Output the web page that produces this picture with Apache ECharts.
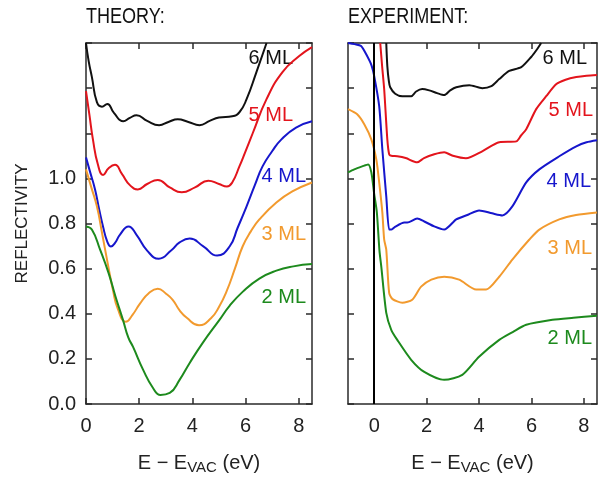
<!DOCTYPE html>
<html>
<head>
<meta charset="utf-8">
<script src="https://cdn.jsdelivr.net/npm/echarts@6/dist/echarts.min.js"></script>
<style>html,body{margin:0;padding:0;background:#fff;}#c{width:603px;height:481px;}</style>
</head>
<body>
<div id="c"></div>
<script>
// ---------- data (x = E - E_VAC in eV, y = reflectivity, offset curves) ----------
const panelTitles = ['THEORY:', 'EXPERIMENT:'];
const seriesNames = ['6 ML', '5 ML', '4 ML', '3 ML', '2 ML'];
const seriesColors = ['#111111', '#e3141c', '#1616cc', '#f29a2e', '#1d8a1d'];
const yTicks = [0, 0.2, 0.4, 0.6, 0.8, 1.0];
const xTickLabels = [0, 2, 4, 6, 8];

const theory6 = [[0,1.60],[0.1,1.52],[0.22,1.45],[0.41,1.338],[0.6,1.318],[0.8,1.33],[1.05,1.29],[1.4,1.253],[1.65,1.268],[1.9,1.28],[2.3,1.255],[2.75,1.236],[3.1,1.25],[3.45,1.262],[3.85,1.25],[4.27,1.236],[4.65,1.255],[5.0,1.27],[5.5,1.275],[5.77,1.293],[6.04,1.351],[6.41,1.471],[6.79,1.6]];
const theory5 = [[0,1.387],[0.13,1.28],[0.26,1.173],[0.45,1.06],[0.64,1.015],[0.85,1.045],[1.09,1.06],[1.35,1.02],[1.65,0.97],[1.95,0.951],[2.3,0.975],[2.7,0.993],[3.15,0.96],[3.6,0.938],[4.1,0.96],[4.6,0.99],[5.0,0.975],[5.3,0.964],[5.5,0.982],[5.77,1.053],[6.0,1.12],[6.27,1.2],[6.79,1.351],[7.39,1.471],[8.02,1.542],[8.5,1.582]];
const theory4 = [[0,1.093],[0.15,1.03],[0.34,0.951],[0.5,0.86],[0.64,0.787],[0.8,0.72],[0.94,0.698],[1.1,0.715],[1.28,0.751],[1.6,0.787],[1.9,0.75],[2.3,0.68],[2.74,0.644],[3.2,0.68],[3.52,0.716],[3.9,0.733],[4.4,0.70],[4.93,0.658],[5.4,0.698],[5.7,0.78],[6.04,0.876],[6.35,0.97],[6.64,1.053],[7.0,1.12],[7.35,1.173],[7.9,1.225],[8.5,1.253]];
const theory3 = [[0,1.04],[0.2,0.96],[0.41,0.876],[0.6,0.76],[0.79,0.64],[1.01,0.507],[1.2,0.42],[1.5,0.364],[1.75,0.395],[2.03,0.445],[2.35,0.49],[2.7,0.511],[3.0,0.49],[3.26,0.462],[3.52,0.415],[3.79,0.382],[4.25,0.349],[4.7,0.38],[5.0,0.43],[5.29,0.5],[5.6,0.6],[5.89,0.698],[6.2,0.765],[6.52,0.818],[7.16,0.893],[7.76,0.942],[8.5,0.982]];
const theory2 = [[0,0.787],[0.22,0.773],[0.53,0.684],[0.85,0.58],[1.1,0.48],[1.39,0.373],[1.59,0.295],[1.77,0.253],[2.15,0.151],[2.52,0.071],[2.8,0.04],[3.15,0.049],[3.52,0.107],[3.9,0.182],[4.39,0.271],[5.02,0.373],[5.4,0.435],[5.89,0.497],[6.52,0.556],[7.16,0.591],[7.8,0.61],[8.5,0.62]];

const exp6 = [[0.46,1.6],[0.5,1.498],[0.56,1.43],[0.61,1.404],[0.8,1.375],[1.07,1.364],[1.41,1.364],[1.6,1.385],[1.83,1.396],[2.1,1.39],[2.4,1.378],[2.67,1.369],[2.9,1.39],[3.13,1.404],[3.63,1.413],[4.12,1.4],[4.47,1.409],[4.77,1.44],[5.15,1.476],[5.61,1.493],[5.99,1.538],[6.2,1.57],[6.37,1.6]];
const exp5 = [[0.23,1.6],[0.3,1.5],[0.38,1.396],[0.5,1.173],[0.57,1.107],[0.65,1.1],[0.88,1.098],[1.2,1.09],[1.64,1.071],[1.9,1.09],[2.29,1.107],[2.67,1.116],[3.0,1.1],[3.5,1.089],[4.12,1.12],[4.77,1.16],[5.42,1.164],[5.6,1.19],[5.8,1.218],[6.18,1.307],[6.56,1.364],[6.95,1.418],[7.3,1.437],[7.71,1.449],[8.1,1.455],[8.5,1.458]];
const exp4 = [[-1.0,1.6],[-0.75,1.595],[-0.5,1.587],[-0.27,1.542],[-0.1,1.5],[0,1.453],[0.19,1.32],[0.31,1.129],[0.46,0.92],[0.57,0.773],[0.65,0.773],[0.76,0.782],[1.15,0.804],[1.26,0.804],[1.64,0.822],[1.91,0.809],[2.29,0.787],[2.67,0.773],[3.13,0.818],[3.6,0.84],[4.0,0.858],[4.5,0.845],[4.89,0.836],[5.27,0.876],[5.8,0.982],[6.3,1.04],[7.06,1.098],[7.71,1.142],[8.1,1.16],[8.5,1.169]];
const exp3 = [[-1.0,1.307],[-0.65,1.284],[-0.38,1.24],[-0.11,1.173],[0.08,1.084],[0.19,0.982],[0.31,0.849],[0.38,0.729],[0.46,0.684],[0.57,0.493],[0.7,0.465],[1.07,0.449],[1.45,0.462],[1.79,0.52],[2.18,0.551],[2.67,0.564],[3.24,0.551],[3.89,0.507],[4.27,0.507],[4.77,0.564],[5.27,0.64],[5.92,0.729],[6.3,0.773],[7.06,0.818],[7.7,0.838],[8.5,0.849]];
const exp2 = [[-1.0,1.027],[-0.76,1.04],[-0.46,1.053],[-0.23,1.062],[-0.11,1.027],[0,0.93],[0.1,0.85],[0.2,0.68],[0.27,0.609],[0.46,0.404],[0.65,0.329],[0.88,0.284],[1.41,0.196],[1.91,0.142],[2.67,0.107],[3.36,0.129],[4.0,0.209],[4.77,0.284],[5.3,0.32],[5.8,0.351],[6.8,0.373],[7.6,0.382],[8.5,0.391]];

const vacuumLevel = 0;

// ---------- chart ----------
const theorySets = [theory6, theory5, theory4, theory3, theory2];
const expSets = [exp6, exp5, exp4, exp3, exp2];
const frame = '#2a2a2a';
const tickFont = 'Liberation Sans';

function xAx(grid, pos, min, withLabel) {
  return {
    type: 'value', gridIndex: grid, position: pos, min: min, max: 8.5,
    axisLine: { show: true, onZero: false, lineStyle: { color: frame, width: 1.5 } },
    axisTick: { show: true, inside: true, length: 6, customValues: xTickLabels, lineStyle: { color: frame, width: 1.5 } },
    axisLabel: { show: withLabel, customValues: xTickLabels, fontSize: 20, fontFamily: tickFont, color: '#222', margin: 12 },
    splitLine: { show: false },
    name: withLabel ? '{a|E − E}{s|VAC}{a| (eV)}' : '',
    nameLocation: 'middle', nameGap: 47,
    nameTextStyle: { rich: {
      a: { fontSize: 20, fontFamily: tickFont, color: '#222' },
      s: { fontSize: 15, fontFamily: tickFont, color: '#222', padding: [9, 0, 0, 0] }
    } }
  };
}
function yAx(grid, pos, withLabel) {
  return {
    type: 'value', gridIndex: grid, position: pos, min: 0, max: 1.6, interval: 0.2,
    axisLine: { show: true, onZero: false, lineStyle: { color: frame, width: 1.5 } },
    axisTick: { show: true, inside: true, length: 6, lineStyle: { color: frame, width: 1.5 } },
    axisLabel: { show: withLabel, fontSize: 20, fontFamily: tickFont, color: '#222', margin: 10,
      formatter: v => (yTicks.some(t => Math.abs(t - v) < 1e-6) ? v.toFixed(1) : '') },
    splitLine: { show: false },
    name: withLabel ? 'REFLECTIVITY' : '',
    nameLocation: 'middle', nameGap: 55, nameRotate: 90,
    nameTextStyle: { fontSize: 17, fontFamily: tickFont, color: '#222' }
  };
}

const series = [];
theorySets.forEach((d, i) => series.push({
  name: 'T ' + seriesNames[i], type: 'line', xAxisIndex: 0, yAxisIndex: 0, data: d,
  smooth: 0.5, symbol: 'none', clip: true,
  lineStyle: { color: seriesColors[i], width: 2 }, silent: true
}));
expSets.forEach((d, i) => series.push({
  name: 'E ' + seriesNames[i], type: 'line', xAxisIndex: 2, yAxisIndex: 2, data: d,
  smooth: 0.25, symbol: 'none', clip: true,
  lineStyle: { color: seriesColors[i], width: 2 }, silent: true,
  markLine: i === 0 ? { silent: true, symbol: 'none', label: { show: false },
    lineStyle: { color: '#000', width: 2, type: 'solid' }, data: [{ xAxis: vacuumLevel }] } : undefined
}));

const theoryLabelPos = [[293,58],[293,115],[306,176],[306,234],[306,297]];
const expLabelPos = [[587,58],[593,110],[591,181],[592,248],[592,338]];
const graphics = [];
seriesNames.forEach((n, i) => {
  [theoryLabelPos[i], expLabelPos[i]].forEach(p => graphics.push({
    type: 'text', x: p[0], y: p[1], silent: true,
    style: { text: n, fill: seriesColors[i], font: '20px "Liberation Sans"', align: 'right', verticalAlign: 'middle' }
  }));
});
// panel titles (slightly condensed like the original lettering)
[[86, panelTitles[0]], [348, panelTitles[1]]].forEach(t => graphics.push({
  type: 'text', x: t[0], y: 17, scaleX: 0.82, silent: true,
  style: { text: t[1], fill: '#111', font: '22px "Liberation Sans"', align: 'left', verticalAlign: 'middle' }
}));

const chart = echarts.init(document.getElementById('c'), null, { renderer: 'canvas' });
chart.setOption({
  animation: false,
  backgroundColor: '#fff',
  grid: [
    { left: 86, top: 43, width: 226, height: 361, containLabel: false },
    { left: 348, top: 43, width: 249, height: 361, containLabel: false }
  ],
  xAxis: [xAx(0, 'bottom', 0, true), xAx(0, 'top', 0, false), xAx(1, 'bottom', -1, true), xAx(1, 'top', -1, false)],
  yAxis: [yAx(0, 'left', true), yAx(0, 'right', false), yAx(1, 'left', false), yAx(1, 'right', false)],
  series: series,
  graphic: graphics
});
</script>
</body>
</html>
